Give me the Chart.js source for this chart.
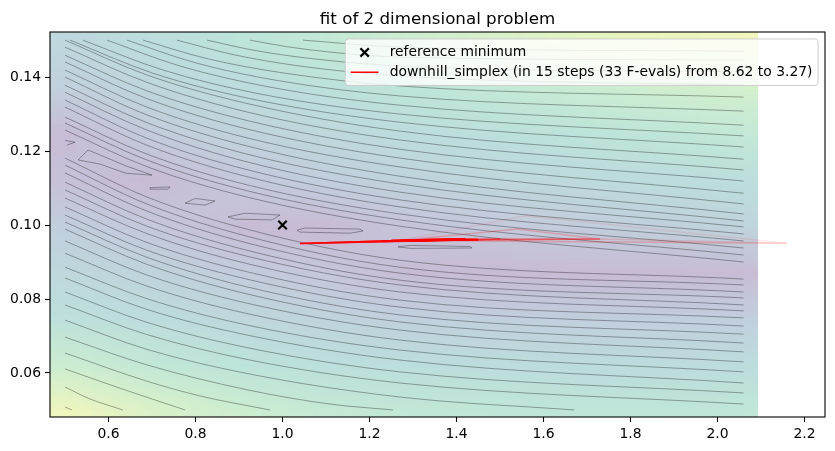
<!DOCTYPE html>
<html><head><meta charset="utf-8">
<script src="https://cdn.jsdelivr.net/npm/chart.js@4.4.1/dist/chart.umd.min.js"></script>
<style>html,body{margin:0;padding:0;background:#fff;}canvas{display:block;}</style>
</head><body>
<canvas id="c" width="835" height="451"></canvas>
<script>
// ---------- data ----------
const titleText = 'fit of 2 dimensional problem';
const refLabel = 'reference minimum';
const simplexLabel = 'downhill_simplex (in 15 steps (33 F-evals) from 8.62 to 3.27)';
const xTicks = [0.6, 0.8, 1.0, 1.2, 1.4, 1.6, 1.8, 2.0, 2.2];
const xTickLabels = ['0.6', '0.8', '1.0', '1.2', '1.4', '1.6', '1.8', '2.0', '2.2'];
const yTicks = [0.06, 0.08, 0.10, 0.12, 0.14];
const yTickLabels = ['0.06', '0.08', '0.10', '0.12', '0.14'];
const xLimits = [0.4655, 2.247];
const yLimits = [0.0481, 0.1522];
const heatExtent = [0.4655, 2.093, 0.0481, 0.1522];
const heatX = [0.5, 0.695, 0.89, 1.085, 1.28, 1.475, 1.67, 1.865, 2.06];
const heatY = [0.15, 0.1375, 0.125, 0.1125, 0.1, 0.0875, 0.075, 0.0625, 0.05];
const heatLevels = [
  [0.42, 0.50, 0.58, 0.66, 0.74, 0.80, 0.86, 0.90, 0.93],
  [0.32, 0.40, 0.47, 0.54, 0.60, 0.66, 0.71, 0.75, 0.78],
  [0.10, 0.27, 0.35, 0.42, 0.48, 0.53, 0.58, 0.62, 0.66],
  [0.14, 0.08, 0.22, 0.30, 0.36, 0.41, 0.45, 0.49, 0.52],
  [0.30, 0.22, 0.10, 0.08, 0.18, 0.24, 0.29, 0.33, 0.36],
  [0.42, 0.36, 0.28, 0.20, 0.10, 0.08, 0.08, 0.08, 0.10],
  [0.55, 0.48, 0.42, 0.37, 0.33, 0.31, 0.30, 0.30, 0.30],
  [0.73, 0.65, 0.58, 0.53, 0.50, 0.48, 0.47, 0.47, 0.48],
  [0.92, 0.82, 0.74, 0.68, 0.65, 0.63, 0.62, 0.62, 0.63]
];
const contoursUpper = [
  [[0.5,0.1257],[0.688,0.1158],[0.921,0.1075],[1.27,0.0997],[2.06,0.0900]],
  [[0.5,0.1276],[0.688,0.1176],[0.921,0.1092],[1.27,0.1014],[2.06,0.0919]],
  [[0.5,0.1292],[0.688,0.1192],[0.921,0.1108],[1.27,0.1030],[2.06,0.0938]],
  [[0.5,0.1319],[0.688,0.1216],[0.921,0.1130],[1.27,0.1049],[2.06,0.0957]],
  [[0.5,0.1338],[0.688,0.1235],[0.921,0.1149],[1.27,0.1068],[2.06,0.0976]],
  [[0.5,0.1359],[0.688,0.1257],[0.921,0.1170],[1.27,0.1089],[2.06,0.0995]],
  [[0.5,0.1378],[0.688,0.1277],[0.921,0.1191],[1.27,0.1111],[2.06,0.1011]],
  [[0.5,0.1400],[0.688,0.1298],[0.921,0.1213],[1.27,0.1132],[2.06,0.1030]],
  [[0.5,0.1419],[0.688,0.1319],[0.921,0.1235],[1.27,0.1157],[2.06,0.1057]],
  [[0.5,0.1441],[0.688,0.1342],[0.921,0.1259],[1.27,0.1181],[2.06,0.1086]],
  [[0.5,0.1459],[0.688,0.1363],[0.921,0.1282],[1.27,0.1205],[2.06,0.1119]],
  [[0.5,0.1481],[0.688,0.1386],[0.921,0.1305],[1.27,0.1230],[2.06,0.1149]],
  [[0.5,0.1500],[0.688,0.1406],[0.921,0.1328],[1.27,0.1254],[2.06,0.1178]],
  [[0.5115,0.15],[0.7011,0.1411],[0.9287,0.1341],[1.27,0.1278],[2.06,0.1211]],
  [[0.541,0.15],[0.723,0.1420],[0.9414,0.1356],[1.27,0.1300],[2.06,0.1241]],
  [[0.5966,0.15],[0.7644,0.1430],[0.9667,0.1374],[1.27,0.1324],[2.06,0.1270]],
  [[0.6425,0.15],[0.7989,0.1439],[0.9874,0.1391],[1.27,0.1349],[2.06,0.1308]],
  [[0.6793,0.15],[0.8264,0.1450],[1.0034,0.1411],[1.27,0.1376],[2.06,0.1346]],
  [[0.7575,0.15],[0.8862,0.1461],[1.0402,0.1430],[1.27,0.1403],[2.06,0.1378]],
  [[0.8264,0.15],[0.9368,0.1472],[1.0747,0.1449],[1.27,0.1430],[2.06,0.1414]],
  [[0.9253,0.15],[1.0115,0.1482],[1.1149,0.1467],[1.27,0.1454],[2.06,0.1446]],
  [[1.0471,0.15],[1.27,0.1481],[2.06,0.1470]]
];
const contoursLower = [
  [[0.5,0.1181],[0.688,0.1076],[0.921,0.0988],[1.27,0.0905],[2.06,0.0854]],
  [[0.5,0.1162],[0.688,0.1057],[0.921,0.0969],[1.27,0.0886],[2.06,0.0838]],
  [[0.5,0.1141],[0.688,0.1038],[0.921,0.0951],[1.27,0.0870],[2.06,0.0819]],
  [[0.5,0.1116],[0.688,0.1016],[0.921,0.0931],[1.27,0.0851],[2.06,0.0803]],
  [[0.5,0.1095],[0.688,0.0997],[0.921,0.0915],[1.27,0.0838],[2.06,0.0784]],
  [[0.5,0.1073],[0.688,0.0977],[0.921,0.0895],[1.27,0.0819],[2.06,0.0768]],
  [[0.5,0.1049],[0.688,0.0953],[0.921,0.0873],[1.27,0.0797],[2.06,0.0749]],
  [[0.5,0.1027],[0.688,0.0932],[0.921,0.0853],[1.27,0.0778],[2.06,0.0727]],
  [[0.5,0.1008],[0.688,0.0913],[0.921,0.0832],[1.27,0.0757],[2.06,0.0705]],
  [[0.5,0.0989],[0.688,0.0894],[0.921,0.0813],[1.27,0.0738],[2.06,0.0681]],
  [[0.5,0.0957],[0.688,0.0865],[0.921,0.0788],[1.27,0.0716],[2.06,0.0657]],
  [[0.5,0.0924],[0.688,0.0835],[0.921,0.0760],[1.27,0.0689],[2.06,0.0630]],
  [[0.5,0.0886],[0.688,0.0801],[0.921,0.0729],[1.27,0.0662],[2.06,0.0603]],
  [[0.5,0.0857],[0.688,0.0772],[0.921,0.0702],[1.27,0.0635],[2.06,0.0573]],
  [[0.5,0.0819],[0.688,0.0737],[0.921,0.0668],[1.27,0.0603],[2.06,0.0546]],
  [[0.5,0.0784],[0.688,0.0704],[0.921,0.0636],[1.27,0.0573],[2.06,0.0516]],
  [[0.5,0.0743],[0.688,0.0664],[0.921,0.0598],[1.27,0.0535],[1.67,0.0500]],
  [[0.5,0.0697],[0.688,0.0622],[0.921,0.0554],[1.109,0.0516],[1.254,0.0500]],
  [[0.5,0.0654],[0.688,0.0578],[0.81,0.0538],[0.971,0.0500]],
  [[0.5,0.0611],[0.626,0.0559],[0.776,0.0500]],
  [[0.5,0.0562],[0.557,0.0530],[0.633,0.0500]],
  [[0.5,0.0508],[0.516,0.0500]]
];
const contoursValley = [
  [[0.5,0.1229],[0.523,0.1224],[0.504,0.1216]],
  [[0.530,0.1176],[0.553,0.1203],[0.640,0.1160],[0.700,0.1135],[0.640,0.1140],[0.580,0.1165],[0.530,0.1176]],
  [[0.6954,0.1101],[0.7414,0.1103],[0.7368,0.1097],[0.6954,0.1097],[0.6954,0.1101]],
  [[0.7759,0.1059],[0.7989,0.1072],[0.8448,0.1065],[0.8218,0.1054],[0.7759,0.1059]],
  [[0.8747,0.1022],[0.9138,0.1032],[0.9943,0.1027],[0.9759,0.1014],[0.8908,0.1016],[0.8747,0.1022]],
  [[1.0333,0.0986],[1.0517,0.0992],[1.1782,0.0989],[1.1851,0.0984],[1.1552,0.0978],[1.0402,0.0981],[1.0333,0.0986]],
  [[1.2655,0.0941],[1.2931,0.0945],[1.4310,0.0942],[1.4356,0.0938],[1.2931,0.0937],[1.2655,0.0941]]
];
const refMin = [1.0, 0.1];
const simplexTriangles = [
  [[1.27,0.0958],[2.16,0.0951],[1.56,0.1025]],
  [[1.27,0.0958],[2.16,0.0951],[1.73,0.0962]],
  [[1.27,0.0958],[1.54,0.0989],[1.73,0.0962]],
  [[1.23,0.0957],[1.73,0.0962],[1.50,0.0962]],
  [[1.23,0.0957],[1.50,0.0962],[1.45,0.0960]],
  [[1.04,0.0950],[1.45,0.0960],[1.23,0.0957]],
  [[1.04,0.0950],[1.23,0.0957],[1.40,0.0960]],
  [[1.23,0.0956],[1.45,0.0961],[1.35,0.0961]],
  [[1.25,0.0958],[1.42,0.0962],[1.33,0.0958]]
];

// ---------- helpers ----------
const FONT = '"DejaVu Sans", "Liberation Sans", sans-serif';
const viridis = [[68,1,84],[72,36,117],[65,68,135],[53,95,141],[42,120,142],[33,145,140],[34,168,132],[68,191,112],[122,209,81],[189,223,38],[253,231,37]];
function cmap(v, a) {
  v = Math.max(0, Math.min(1, v));
  const f = v * 10, i = Math.min(9, Math.floor(f)), t = f - i;
  const c = [0,1,2].map(k => viridis[i][k] + (viridis[i+1][k] - viridis[i][k]) * t);
  return c.map(ch => Math.round(255 * (1 - a) + ch * a));
}
const toXY = pts => pts.map(p => ({x: p[0], y: p[1]}));

// ---------- datasets ----------
const datasets = [];
datasets.push({label: refLabel, data: toXY([refMin]), showLine: false, pointStyle: 'crossRot',
  pointRadius: 6, pointBorderWidth: 2.2, borderColor: '#000', backgroundColor: '#000', order: 0});
const stepAlpha = [0.08, 0.14, 0.22, 0.32, 0.5, 0.8, 1, 1, 1];
simplexTriangles.forEach((tri, i) => {
  datasets.push({label: simplexLabel, data: toXY([...tri, tri[0]]), showLine: true, tension: 0,
    borderColor: `rgba(255,0,0,${stepAlpha[i]})`, borderWidth: i >= 7 ? 2 : 1.5, pointRadius: 0, order: 1});
});
const contourColor = 'rgba(0,0,0,0.33)';
[...contoursUpper, ...contoursLower].forEach(line => {
  datasets.push({data: toXY(line), showLine: true, cubicInterpolationMode: 'monotone',
    borderColor: contourColor, borderWidth: 1, pointRadius: 0, order: 5});
});
contoursValley.forEach(line => {
  datasets.push({data: toXY(line), showLine: true, tension: 0,
    borderColor: contourColor, borderWidth: 1, pointRadius: 0, order: 5});
});

// ---------- plugins ----------
const heatPlugin = {
  id: 'heat',
  beforeDatasetsDraw(chart) {
    const {ctx, scales: {x, y}} = chart;
    const nx = heatX.length, ny = heatY.length;
    const off = document.createElement('canvas');
    off.width = nx; off.height = ny;
    const octx = off.getContext('2d');
    const img = octx.createImageData(nx, ny);
    for (let j = 0; j < ny; j++) for (let i = 0; i < nx; i++) {
      const c = cmap(heatLevels[j][i], 0.3), k = (j * nx + i) * 4;
      img.data[k] = c[0]; img.data[k+1] = c[1]; img.data[k+2] = c[2]; img.data[k+3] = 255;
    }
    octx.putImageData(img, 0, 0);
    const dx = (heatX[nx-1] - heatX[0]) / (nx - 1), dy = (heatY[0] - heatY[ny-1]) / (ny - 1);
    const px0 = x.getPixelForValue(heatX[0] - dx/2), px1 = x.getPixelForValue(heatX[nx-1] + dx/2);
    const py0 = y.getPixelForValue(heatY[0] + dy/2), py1 = y.getPixelForValue(heatY[ny-1] - dy/2);
    const cx0 = x.getPixelForValue(heatExtent[0]), cx1 = x.getPixelForValue(heatExtent[1]);
    const cy0 = y.getPixelForValue(heatExtent[3]), cy1 = y.getPixelForValue(heatExtent[2]);
    ctx.save();
    ctx.beginPath(); ctx.rect(cx0, cy0, cx1 - cx0, cy1 - cy0); ctx.clip();
    ctx.imageSmoothingEnabled = true;
    ctx.drawImage(off, px0, py0, px1 - px0, py1 - py0);
    ctx.restore();
  }
};
const decorPlugin = {
  id: 'decor',
  afterDraw(chart) {
    const {ctx, chartArea: a} = chart;
    ctx.save();
    ctx.strokeStyle = '#000'; ctx.lineWidth = 1.1;
    ctx.strokeRect(a.left, a.top, a.right - a.left, a.bottom - a.top);
    ctx.fillStyle = '#000';
    ctx.font = `16.7px ${FONT}`;
    ctx.textAlign = 'center'; ctx.textBaseline = 'alphabetic';
    ctx.fillText(titleText, (a.left + a.right) / 2, 23.5);
    const fs = 13.9;
    ctx.font = `${fs}px ${FONT}`;
    const labels = [refLabel, simplexLabel];
    const tw = Math.max(...labels.map(t => ctx.measureText(t).width));
    const pad = 0.4 * fs, hl = 2 * fs, hp = 0.8 * fs;
    const w = pad + hl + hp + tw + pad;
    const right = a.right - 0.5 * fs, left = right - w, top = a.top + 0.5 * fs, h = 46.5;
    ctx.beginPath();
    ctx.roundRect(left, top, w, h, 3);
    ctx.fillStyle = 'rgba(255,255,255,0.8)'; ctx.fill();
    ctx.strokeStyle = '#cccccc'; ctx.lineWidth = 1; ctx.stroke();
    const rows = [top + 13.5, top + 33.3];
    const hx = left + pad, hc = hx + hl / 2;
    ctx.strokeStyle = '#000'; ctx.lineWidth = 2.2;
    const r = 4.2;
    ctx.beginPath();
    ctx.moveTo(hc - r, rows[0] - r); ctx.lineTo(hc + r, rows[0] + r);
    ctx.moveTo(hc - r, rows[0] + r); ctx.lineTo(hc + r, rows[0] - r);
    ctx.stroke();
    ctx.strokeStyle = 'rgb(255,0,0)'; ctx.lineWidth = 1.5;
    ctx.beginPath(); ctx.moveTo(hx, rows[1]); ctx.lineTo(hx + hl, rows[1]); ctx.stroke();
    ctx.fillStyle = '#000'; ctx.textAlign = 'left'; ctx.textBaseline = 'middle';
    labels.forEach((t, i) => ctx.fillText(t, hx + hl + hp, rows[i]));
    ctx.restore();
  }
};

const tickFont = {family: FONT, size: 13.9};
new Chart(document.getElementById('c'), {
  type: 'scatter',
  data: {datasets},
  options: {
    responsive: false, animation: false, events: [],
    layout: {padding: {left: 0, right: 10, top: 32, bottom: 0}},
    plugins: {legend: {display: false}, tooltip: {enabled: false}, title: {display: false}},
    scales: {
      x: {
        type: 'linear', min: xLimits[0], max: xLimits[1],
        afterBuildTicks: s => { s.ticks = xTicks.map(v => ({value: v})); },
        afterFit: s => { s.height = 34; },
        ticks: {callback: (v, i) => xTickLabels[i], font: tickFont, color: '#000', padding: 4, maxRotation: 0, autoSkip: false},
        grid: {drawOnChartArea: false, drawTicks: true, tickLength: 5, tickColor: '#000', tickWidth: 1.1},
        border: {display: false}
      },
      y: {
        type: 'linear', min: yLimits[0], max: yLimits[1],
        afterBuildTicks: s => { s.ticks = yTicks.map(v => ({value: v})); },
        afterFit: s => { s.width = 50; },
        ticks: {callback: (v, i) => yTickLabels[i], font: tickFont, color: '#000', padding: 4, autoSkip: false},
        grid: {drawOnChartArea: false, drawTicks: true, tickLength: 5, tickColor: '#000', tickWidth: 1.1},
        border: {display: false}
      }
    }
  },
  plugins: [heatPlugin, decorPlugin]
});
</script>
</body></html>
